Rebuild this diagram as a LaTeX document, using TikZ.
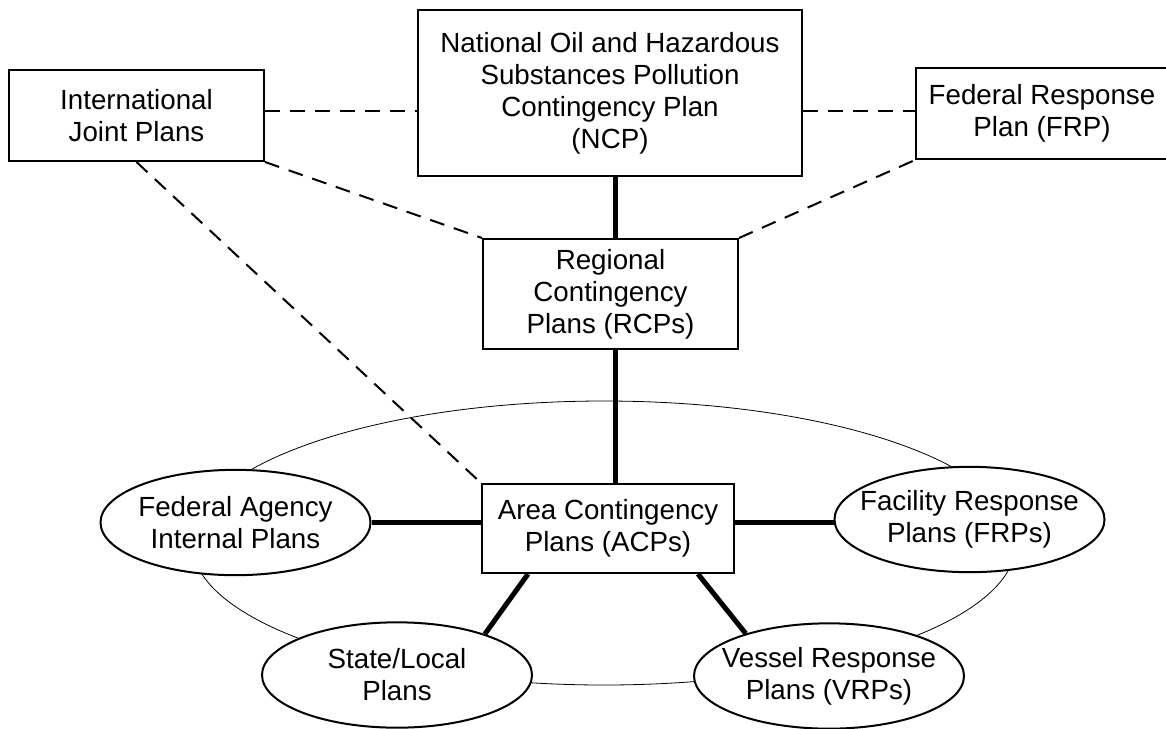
\documentclass[tikz,border=0pt]{standalone}
\usepackage{fontspec}
\setmainfont{Liberation Sans}
\usetikzlibrary{shapes.geometric}
\newcommand\diagfont{\fontsize{20.8pt}{24pt}\selectfont}
\begin{document}
\begin{tikzpicture}[x=0.75pt,y=-0.75pt,
  plainbox/.style={draw,line width=1.5pt,fill=white,inner sep=0pt,align=center,font=\diagfont},
  oval/.style={draw,ellipse,line width=1.5pt,fill=white,inner sep=0pt,minimum width=202.5pt,minimum height=79pt},
  ovaltext/.style={align=center,font=\diagfont,inner sep=0pt},
  dashlink/.style={line width=1.5pt,dash pattern=on 11.25pt off 7.5pt},
  thicklink/.style={line width=3.75pt},
  ringline/.style={line width=0.6pt}]
\clip (0,0) rectangle (1166,728);
\fill[white] (0,0) rectangle (1166,728);
% surrounding ring
\node[draw,ellipse,ringline,inner sep=0pt,minimum width=618pt,minimum height=213pt] (ring) at (604,543) {};
% boxes
\node[plainbox,minimum width=191.25pt,minimum height=68.25pt] (ijp) at (136.5,115.5) {International\\Joint Plans};
\node[plainbox,minimum width=288pt,minimum height=124.5pt] (ncp) at (610,93) {National Oil and Hazardous\\Substances Pollution\\Contingency Plan\\(NCP)};
\node[plainbox,minimum width=189pt,minimum height=68.25pt] (frp) at (1042,113.5) {Federal Response\\Plan (FRP)};
\node[plainbox,minimum width=191.25pt,minimum height=82.5pt] (rcp) at (610.5,294) {Regional\\Contingency\\Plans (RCPs)};
\node[plainbox,minimum width=189pt,minimum height=66.75pt] (acp) at (608,528.5) {Area Contingency\\Plans (ACPs)};
% ovals
\node[oval] (fed) at (235.5,522.5) {};
\node[ovaltext] (fedtext) at (fed) {Federal Agency\\Internal Plans};
\node[oval] (fac) at (969.5,519.5) {};
\node[ovaltext] (factext) at (fac) {Facility Response\\Plans (FRPs)};
\node[oval] (state) at (397,675) {};
\node[ovaltext] (statetext) at (state) {State/Local\\Plans};
\node[oval] (ves) at (829,676) {};
\node[ovaltext] (vestext) at (ves) {Vessel Response\\Plans (VRPs)};
% dashed links
\path (ijp.east) ++(0,-4.5) coordinate (d1);
\draw[dashlink] (d1) -- (d1 -| ncp.west);
\draw[dashlink] (d1 -| ncp.east) -- (d1 -| frp.west);
\draw[dashlink] (ijp.south east) -- (rcp.north west);
\draw[dashlink] (rcp.north east) -- (frp.south west);
\draw[dashlink] (ijp.south) -- (acp.north west);
% thick links
\path (ncp.south) ++(5,0) coordinate (v1);
\draw[thicklink] (v1) -- (v1 |- rcp.north);
\draw[thicklink] (v1 |- rcp.south) -- (v1 |- acp.north);
\draw[thicklink] (fed.east) -- (fed.east -| acp.west);
\draw[thicklink] (fed.east -| acp.east) -- (fed.east -| fac.west);
\path (acp.south) ++(-80,0) coordinate (s1);
\path (acp.south) ++(90,0) coordinate (s2);
\draw[thicklink] (s1) -- (state.25);
\draw[thicklink] (s2) -- (ves.153);
\end{tikzpicture}
\end{document}
